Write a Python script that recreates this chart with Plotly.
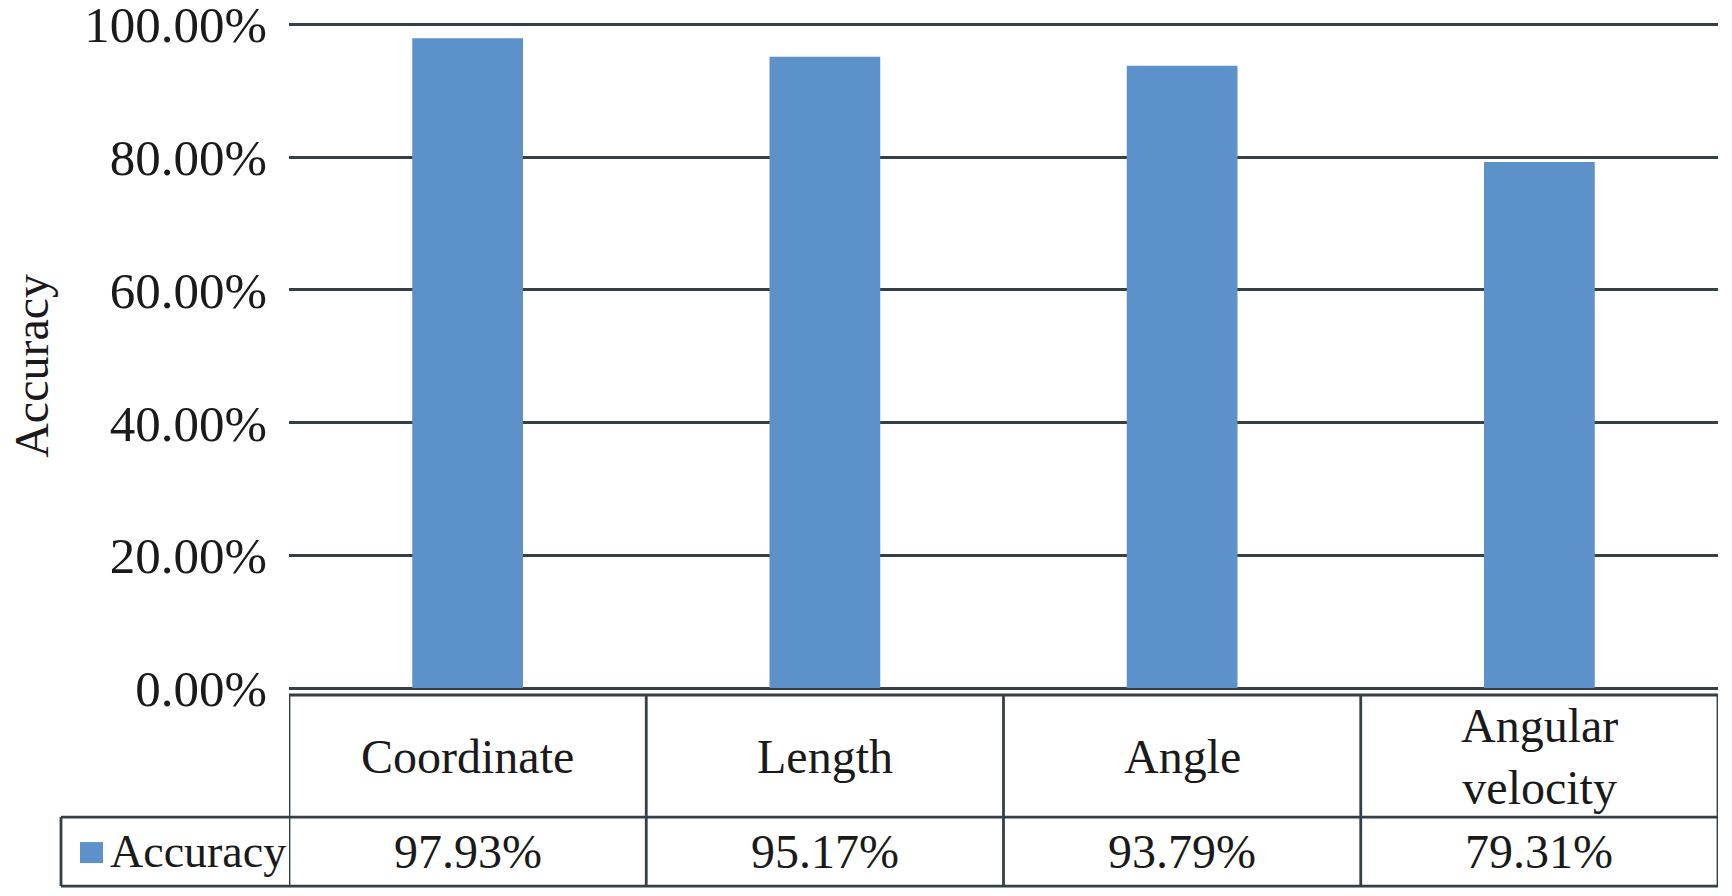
import plotly.graph_objects as go

categories = ["Coordinate", "Length", "Angle", "Angular<br>velocity"]
accuracy = [0.9793, 0.9517, 0.9379, 0.7931]
series_name = "Accuracy"
y_ticks = [0, 0.2, 0.4, 0.6, 0.8, 1.0]
y_tick_labels = ["0.00%", "20.00%", "40.00%", "60.00%", "80.00%", "100.00%"]

BAR_COLOR = "#5D91CA"
LINE_COLOR = "#353F46"
TEXT_COLOR = "#1A1A1A"
FONT = "Liberation Serif, Times New Roman, Tinos, serif"
FS = 48

OFF = 8  # page body margin
W, H = 1732 - OFF, 896 - OFF
Y0_REF, Y100_REF = 688, 25          # reference pixel rows of 0% and 100%
YMAX = 1.01
unit = Y0_REF - Y100_REF
L = 289 - OFF
R = 1732 - 1718
T = (Y0_REF - unit * YMAX) - OFF
B = H - (Y0_REF - OFF)
PH = H - T - B
PW = W - L - R


def py(y_ref):
    return ((Y0_REF - OFF) - (y_ref - OFF)) / PH


def px_(x_ref):
    return ((x_ref - OFF) - L) / PW


fig = go.Figure()
fig.add_trace(go.Bar(x=categories, y=accuracy, name=series_name,
                     marker=dict(color=BAR_COLOR, line=dict(width=0)),
                     showlegend=False))

shapes = []
annotations = []

y_top, y_mid, y_bot = py(695), py(817), py(886)
line = dict(color=LINE_COLOR, width=2.8)
n = len(categories)
shapes.append(dict(type="line", xref="paper", yref="paper", x0=0, x1=1, y0=y_top, y1=y_top, line=line))
shapes.append(dict(type="line", xref="paper", yref="paper", x0=px_(61), x1=1, y0=y_mid, y1=y_mid, line=line))
shapes.append(dict(type="line", xref="paper", yref="paper", x0=px_(61), x1=1, y0=y_bot, y1=y_bot, line=line))
for i in range(n + 1):
    shapes.append(dict(type="line", xref="x", yref="paper", x0=i - 0.5, x1=i - 0.5,
                       y0=y_bot, y1=y_top, line=line))
shapes.append(dict(type="line", xref="paper", yref="paper", x0=px_(61), x1=px_(61),
                   y0=y_bot, y1=y_mid, line=line))
shapes.append(dict(type="rect", xref="paper", yref="paper", x0=px_(80), x1=px_(103),
                   y0=py(863), y1=py(842), fillcolor=BAR_COLOR, line=dict(width=0)))

tf = dict(family=FONT, size=FS, color=TEXT_COLOR)
for c, v in zip(categories, accuracy):
    annotations.append(dict(x=c, y=(y_top + y_mid) / 2, xref="x", yref="paper", text=c,
                            showarrow=False, font=tf, xanchor="center", yanchor="middle"))
    annotations.append(dict(x=c, y=(y_mid + y_bot) / 2, xref="x", yref="paper",
                            text=f"{v*100:.2f}%", showarrow=False, font=tf,
                            xanchor="center", yanchor="middle"))

annotations.append(dict(x=px_(108), y=(y_mid + y_bot) / 2, xref="paper", yref="paper",
                        text=series_name, showarrow=False,
                        font=dict(family=FONT, size=46, color=TEXT_COLOR),
                        xanchor="left", yanchor="middle"))
annotations.append(dict(x=px_(32), y=py(366), xref="paper", yref="paper", text="Accuracy",
                        textangle=-90, showarrow=False, font=tf,
                        xanchor="center", yanchor="middle"))

fig.update_layout(
    width=W, height=H,
    margin=dict(l=L, r=R, t=T, b=B, pad=0, autoexpand=False),
    paper_bgcolor="white", plot_bgcolor="white",
    bargap=0.69,
    shapes=shapes, annotations=annotations,
    font=tf,
    xaxis=dict(showticklabels=False, showgrid=False, zeroline=False, showline=False,
               range=[-0.5, n - 0.5], ticks=""),
    yaxis=dict(range=[0, YMAX], tickvals=y_ticks, ticktext=y_tick_labels,
               showgrid=True, gridcolor=LINE_COLOR, gridwidth=2.8,
               zeroline=True, zerolinecolor=LINE_COLOR, zerolinewidth=2.8,
               showline=False, ticks="", ticklabelstandoff=21,
               ticklabeloverflow="allow",
               tickfont=dict(family=FONT, size=51, color=TEXT_COLOR)),
)

fig.write_html("out.html")
